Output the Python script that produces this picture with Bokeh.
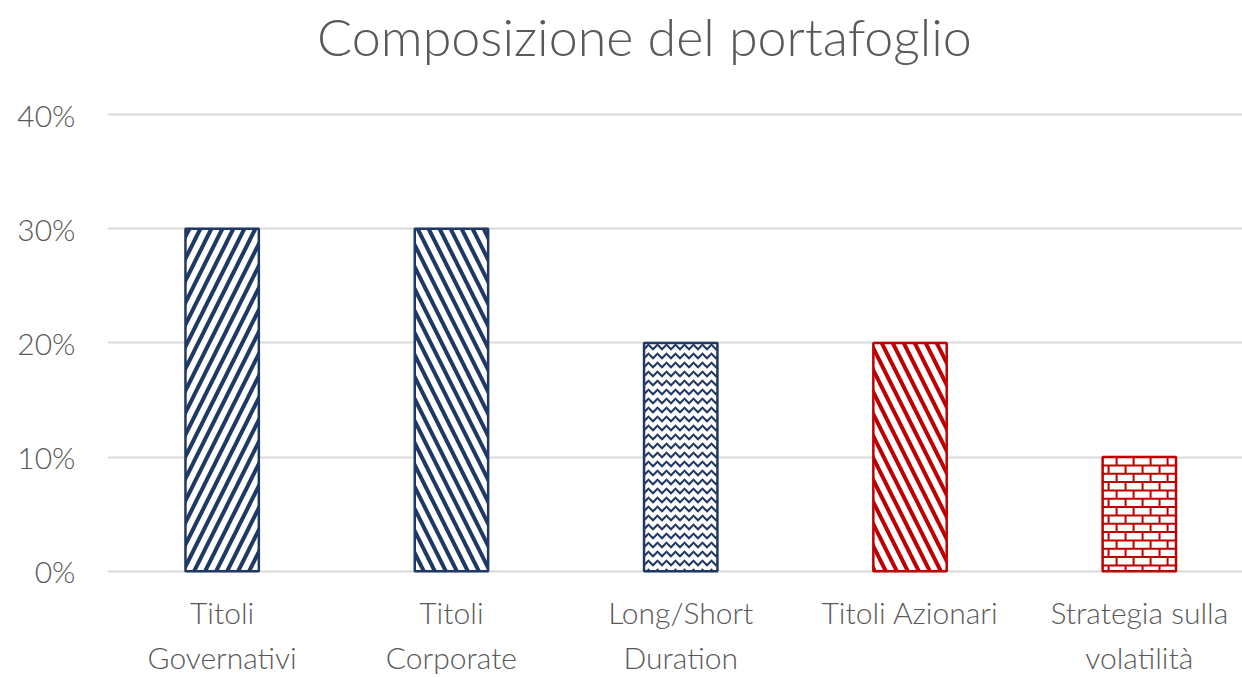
import numpy as np
from bokeh.plotting import figure
from bokeh.models import FixedTicker, NumeralTickFormatter, Range1d, Label
from bokeh.embed import file_html
from bokeh.resources import INLINE

categories = ["Titoli\nGovernativi", "Titoli\nCorporate", "Long/Short\nDuration",
              "Titoli Azionari", "Strategia sulla\nvolatilità"]
values = [0.30, 0.30, 0.20, 0.20, 0.10]
y_ticks = [0.0, 0.1, 0.2, 0.3, 0.4]
title_text = "Composizione del portafoglio"

NAVY = "#203864"
RED = "#C00000"
GREY = "#595959"
FONT = "'Lato Light', Lato, sans-serif"
colors = [NAVY, NAVY, NAVY, RED, RED]
patterns = ["/", "\\", "v", "\\", None]
scales = [22, 22, 9, 22, 10]
weights = [4, 4, 2, 4, 2]
BAR_W = 0.32
BRICK_H = 0.0073   # brick texture size (data units)
BRICK_W = 0.0741

xs = list(range(len(categories)))

p = figure(width=1242, height=677, output_backend="svg", toolbar_location=None,
           x_range=Range1d(-0.5, 4.45), y_range=Range1d(-0.002, 0.5),
           min_border_left=107, min_border_right=0, min_border_top=0, min_border_bottom=103)

for i in xs:
    kw = {}
    if patterns[i] is not None:
        kw = dict(hatch_pattern=patterns[i], hatch_color=colors[i],
                  hatch_scale=scales[i], hatch_weight=weights[i])
    p.vbar(x=[xs[i]], top=[values[i]], bottom=0, width=BAR_W,
           fill_color="white", line_color=colors[i], line_width=2.5, **kw)

# brick texture for the last bar, derived from its value
bi = 4
left, right = xs[bi] - BAR_W / 2, xs[bi] + BAR_W / 2
tops = values[bi] - np.arange(0, values[bi], BRICK_H)
x0s, y0s, x1s, y1s = [], [], [], []
for k, yt in enumerate(tops):
    yb = max(yt - BRICK_H, 0.0)
    x0s.append(left); x1s.append(right); y0s.append(yt); y1s.append(yt)
    off = 0.061 if k % 2 == 0 else 0.026
    for xv in np.arange(left + off, right, BRICK_W):
        x0s.append(xv); x1s.append(xv); y0s.append(yt); y1s.append(yb)
p.segment(x0=x0s, y0=y0s, x1=x1s, y1=y1s, line_color=RED, line_width=2)

p.title = None
p.add_layout(Label(x=1.842, y=0.469, text=title_text, text_align="center",
                   text_baseline="alphabetic", text_font=FONT,
                   text_font_size="52px", text_color=GREY))

p.outline_line_color = None
p.xgrid.grid_line_color = None
p.ygrid.grid_line_color = "#D9D9D9"
p.ygrid.grid_line_width = 2
p.ygrid.ticker = FixedTicker(ticks=y_ticks)

p.yaxis.ticker = FixedTicker(ticks=y_ticks)
p.yaxis.formatter = NumeralTickFormatter(format="0%")
p.xaxis.ticker = FixedTicker(ticks=xs)
p.xaxis.major_label_overrides = {i: categories[i] for i in xs}

for ax in (p.xaxis, p.yaxis):
    ax.axis_line_color = None
    ax.major_tick_line_color = None
    ax.minor_tick_line_color = None
    ax.major_label_text_font = FONT
    ax.major_label_text_font_size = "30px"
    ax.major_label_text_color = GREY
p.yaxis.major_label_standoff = 26
p.xaxis.major_label_standoff = 14
p.xaxis.major_label_text_line_height = 1.25

open("out.html", "w").write(file_html(p, INLINE))
